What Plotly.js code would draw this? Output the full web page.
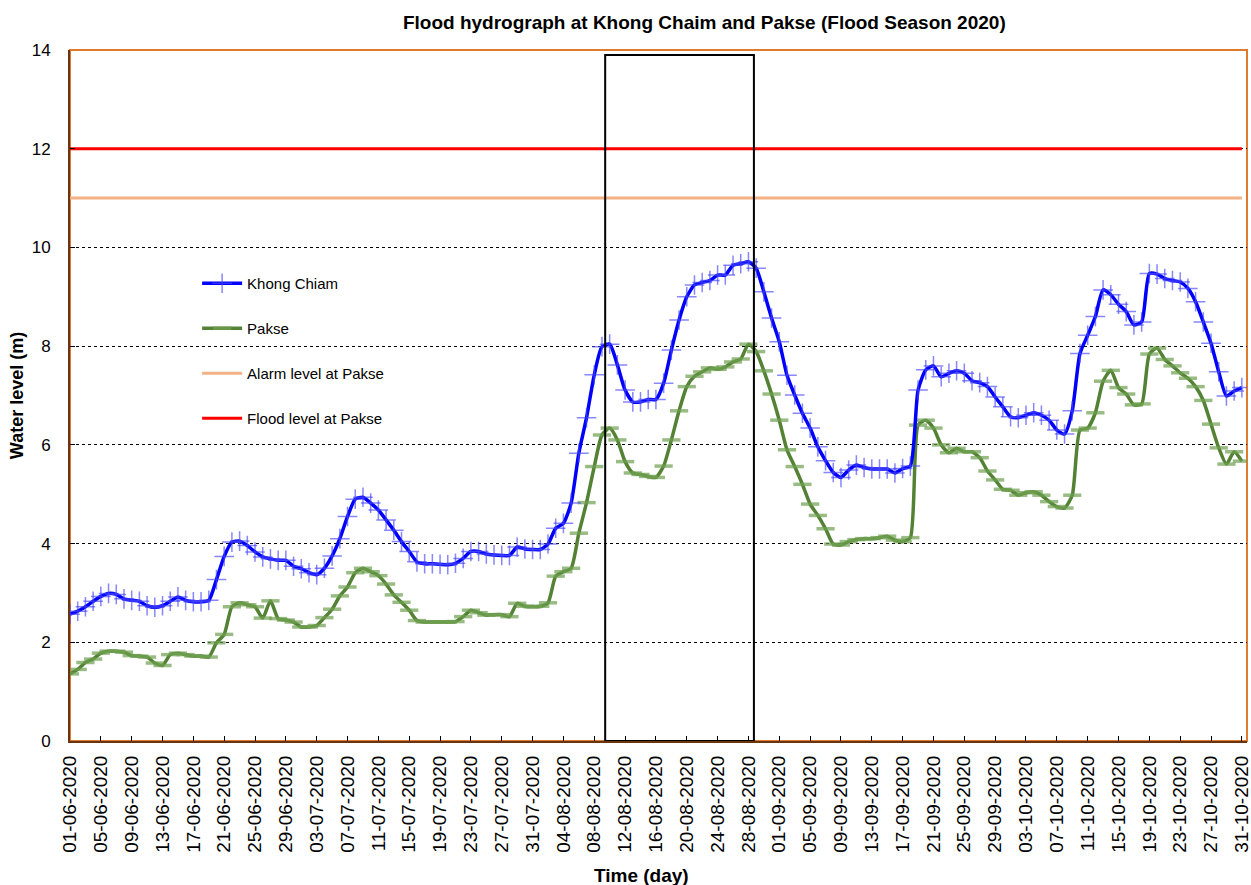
<!DOCTYPE html>
<html>
<head>
<meta charset="utf-8">
<script src="https://cdn.plot.ly/plotly-3.0.1.min.js"></script>
<style>html,body{margin:0;padding:0;background:#fff;}#chart{width:1251px;height:885px;}</style>
</head>
<body>
<div id="chart"></div>
<script>
// ---- data ----
var startDate = '2020-06-01';
var dayCount = 153; // 01-06-2020 .. 31-10-2020

var khongChiam = [
  2.57,2.63,2.72,2.83,2.93,2.99,2.97,2.88,2.85,2.83,
  2.74,2.71,2.74,2.83,2.92,2.85,2.82,2.82,2.85,3.27,
  3.74,4.03,4.05,3.96,3.83,3.73,3.69,3.66,3.66,3.54,
  3.49,3.41,3.37,3.50,3.75,4.10,4.55,4.90,4.94,4.82,
  4.68,4.48,4.27,4.04,3.84,3.63,3.59,3.59,3.58,3.57,
  3.60,3.70,3.84,3.84,3.79,3.77,3.76,3.76,3.93,3.89,
  3.88,3.88,3.99,4.31,4.41,4.82,5.83,6.55,7.42,7.99,
  8.04,7.62,7.11,6.87,6.87,6.92,6.92,7.25,7.92,8.53,
  9.00,9.24,9.29,9.33,9.44,9.44,9.64,9.67,9.71,9.58,
  9.10,8.57,8.09,7.41,7.01,6.64,6.34,5.96,5.68,5.44,
  5.34,5.49,5.59,5.54,5.51,5.51,5.51,5.43,5.52,5.57,
  7.11,7.52,7.60,7.38,7.45,7.50,7.45,7.30,7.26,7.18,
  6.97,6.77,6.57,6.55,6.60,6.65,6.60,6.50,6.30,6.22,
  6.69,7.85,8.22,8.60,9.14,9.04,8.85,8.70,8.43,8.49,
  9.47,9.46,9.37,9.33,9.30,9.17,8.90,8.49,8.06,7.48,
  6.99,7.09,7.16
];

var pakse = [
  1.36,1.45,1.59,1.66,1.78,1.82,1.82,1.80,1.73,1.72,
  1.70,1.58,1.53,1.75,1.78,1.75,1.72,1.72,1.70,1.99,
  2.16,2.72,2.80,2.76,2.72,2.49,2.84,2.48,2.45,2.41,
  2.31,2.31,2.34,2.50,2.67,2.94,3.12,3.41,3.50,3.43,
  3.35,3.18,2.96,2.81,2.65,2.44,2.41,2.41,2.41,2.41,
  2.42,2.52,2.65,2.60,2.55,2.56,2.56,2.52,2.79,2.73,
  2.72,2.73,2.80,3.34,3.43,3.50,4.21,4.83,5.56,6.20,
  6.34,6.10,5.66,5.43,5.40,5.36,5.34,5.57,6.10,6.69,
  7.18,7.39,7.48,7.56,7.53,7.58,7.68,7.74,8.04,7.89,
  7.50,7.03,6.50,5.90,5.56,5.20,4.80,4.57,4.30,3.99,
  3.97,4.04,4.08,4.10,4.10,4.12,4.15,4.07,4.04,4.12,
  6.40,6.50,6.34,6.00,5.84,5.93,5.86,5.86,5.74,5.47,
  5.29,5.10,5.08,4.98,5.03,5.05,4.98,4.85,4.75,4.72,
  4.98,6.30,6.34,6.65,7.29,7.51,7.16,7.03,6.81,6.83,
  7.84,7.96,7.73,7.60,7.46,7.35,7.18,6.90,6.42,5.94,
  5.61,5.86,5.67
];

var alarmLevel = 11;   // Alarm level at Pakse (m)
var floodLevel = 12;   // Flood level at Pakse (m)

var highlightStart = '2020-08-09 10:00';
var highlightEnd = '2020-08-28 17:00';
var highlightTop = 13.9;

var xRange = ['2020-06-01', '2020-10-31 16:00'];
var yRange = [0, 14];

// ---- build dates ----
var dates = [];
var t0 = Date.parse(startDate + 'T00:00:00Z');
for (var i = 0; i < dayCount; i++) {
  var d = new Date(t0 + i * 86400000);
  dates.push(d.toISOString().slice(0, 10));
}
var alarmSeries = dates.map(function(){ return alarmLevel; });
var floodSeries = dates.map(function(){ return floodLevel; });

var FONT = 'Arial, "Liberation Sans", sans-serif';

var traces = [
  {
    x: dates, y: alarmSeries, name: 'Alarm level at Pakse', type: 'scatter', mode: 'lines',
    line: {color: '#F4B183', width: 3}, legendrank: 3, legendgroup: 'c', hoverinfo: 'skip'
  },
  {
    x: dates, y: floodSeries, name: 'Flood level at Pakse', type: 'scatter', mode: 'lines',
    line: {color: '#FF0000', width: 3}, legendrank: 4, legendgroup: 'd', hoverinfo: 'skip'
  },
  {
    x: dates, y: pakse, name: 'Pakse', type: 'scatter', mode: 'lines+markers',
    line: {color: '#548235', width: 3.5, shape: 'spline', smoothing: 0.6},
    marker: {symbol: 'line-ew', size: 13, line: {color: 'rgba(110,160,80,0.7)', width: 3.5}},
    legendrank: 2, legendgroup: 'b'
  },
  {
    x: dates, y: khongChiam, name: 'Khong Chiam', type: 'scatter', mode: 'lines+markers',
    line: {color: '#0000FF', width: 3.5, shape: 'spline', smoothing: 0.6},
    marker: {symbol: 'cross-thin', size: 14, line: {color: 'rgba(70,70,255,0.65)', width: 1.5}},
    legendrank: 1, legendgroup: 'a'
  }
];

var layout = {
  width: 1251, height: 885,
  margin: {l: 70, r: 4, t: 50, b: 144},
  paper_bgcolor: '#ffffff', plot_bgcolor: '#ffffff',
  font: {family: FONT, color: '#000'},
  title: {
    text: '<b>Flood hydrograph at Khong Chaim and Pakse (Flood Season 2020)</b>',
    font: {family: FONT, size: 19, color: '#000'},
    x: 0.563, xref: 'container', xanchor: 'center', y: 0.975, yanchor: 'middle'
  },
  showlegend: true,
  legend: {
    x: 0.108, y: 0.686, xanchor: 'left', yanchor: 'top',
    bgcolor: 'rgba(255,255,255,0)', borderwidth: 0,
    font: {family: FONT, size: 15, color: '#000'},
    tracegroupgap: 22.5, itemwidth: 40, traceorder: 'grouped'
  },
  xaxis: {
    type: 'date', range: xRange,
    tick0: startDate, dtick: 4 * 86400000, tickformat: '%d-%m-%Y',
    tickangle: -90, tickfont: {family: FONT, size: 19, color: '#000'},
    ticks: 'inside', ticklen: 5, tickcolor: '#000', tickwidth: 1,
    ticklabelstandoff: 5, ticklabeloverflow: 'allow',
    showgrid: false, zeroline: false,
    showline: true, linecolor: '#6b3410', linewidth: 2
  },
  yaxis: {
    range: yRange, dtick: 2, tick0: 0,
    tickfont: {family: FONT, size: 17, color: '#000'},
    ticks: 'inside', ticklen: 5, tickcolor: '#000', tickwidth: 1,
    ticklabelstandoff: 14,
    showgrid: true, gridcolor: '#000', gridwidth: 1, griddash: 'dot',
    zeroline: false,
    showline: true, linecolor: '#6b3410', linewidth: 2,
    title: {text: '<b>Water level (m)</b>', font: {family: FONT, size: 18, color: '#000'}, standoff: 3}
  },
  shapes: [
    {type: 'rect', xref: 'paper', yref: 'paper', x0: 0, x1: 1, y0: 0, y1: 1,
     line: {color: '#E07A2E', width: 2}, fillcolor: 'rgba(0,0,0,0)', layer: 'below'},
    {type: 'rect', xref: 'paper', yref: 'y', x0: 0.034, x1: 0.348, y0: 7.7, y1: 8.3,
     line: {width: 0}, fillcolor: '#ffffff', layer: 'between'},
    {type: 'rect', xref: 'x', yref: 'y', x0: highlightStart, x1: highlightEnd, y0: 0, y1: highlightTop,
     line: {color: '#000000', width: 2}, fillcolor: 'rgba(0,0,0,0)', layer: 'above'}
  ],
  annotations: [
    {text: '<b>Time (day)</b>', xref: 'paper', yref: 'paper', x: (641 - 70) / 1177, y: 0,
     xanchor: 'center', yanchor: 'middle', yshift: -134, showarrow: false,
     font: {family: FONT, size: 19, color: '#000'}}
  ]
};

Plotly.newPlot('chart', traces, layout, {displayModeBar: false, staticPlot: true});
</script>
</body>
</html>
